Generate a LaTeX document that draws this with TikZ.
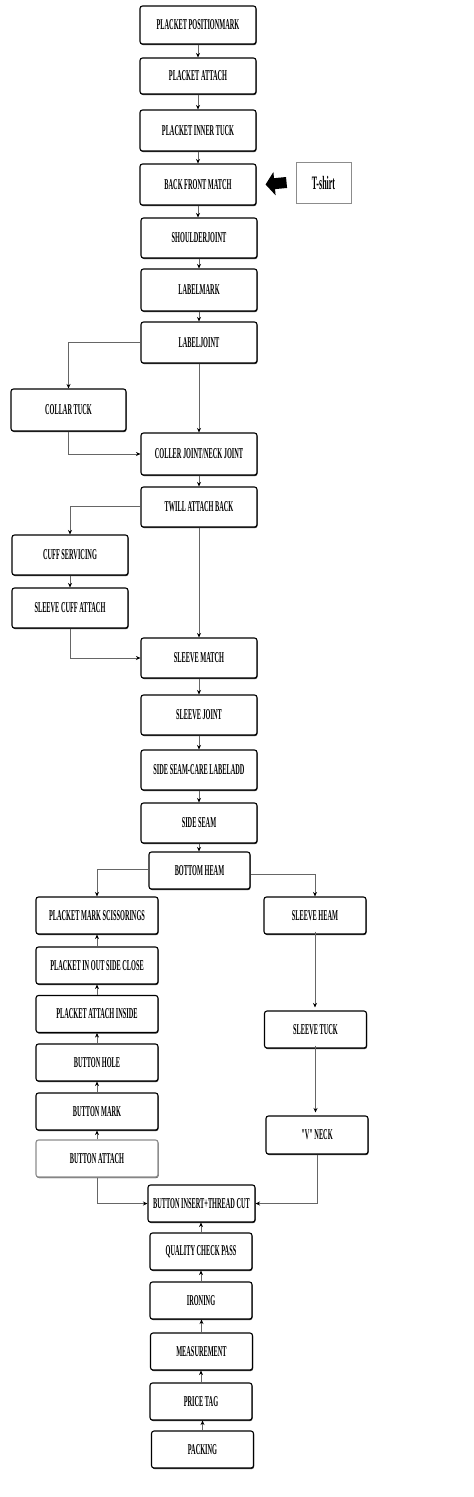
\documentclass[tikz,border=0pt]{standalone}
\usepackage{fontspec}
\newfontfamily\lblfont[FakeStretch=0.42]{Liberation Serif}
\usetikzlibrary{arrows.meta,shadows,calc}
\begin{document}
\begin{tikzpicture}[x=1pt,y=-1pt,
  stepbox/.style={draw=black, rounded corners=2.5pt, line width=1.1pt, minimum width=116pt, minimum height=40pt, inner sep=0pt, align=center, fill=white, font=\lblfont\bfseries\fontsize{15}{15}\selectfont, drop shadow={shadow xshift=0.6pt, shadow yshift=-1.1pt, fill=black, opacity=0.8}},
  small/.style={minimum width=102pt, minimum height=37pt},
  leftcol/.style={minimum width=122pt, minimum height=37pt},
  conn/.style={draw=black!60, line width=0.7pt, -{Stealth[length=4.5pt,width=4pt,black]}},
  srcbox/.style={draw=black!45, line width=0.9pt, minimum width=55pt, minimum height=41pt, inner sep=0pt, fill=white, font=\lblfont\bfseries\fontsize{19}{19}\selectfont},
]
\useasboundingbox (0,0) rectangle (474,1497);
% main column
\node[stepbox, minimum height=38pt] (ppm) at (198,25) {PLACKET POSITIONMARK};
\node[stepbox, minimum height=36pt] (pa) at (198,76) {PLACKET ATTACH};
\node[stepbox, minimum height=41pt] (pit) at (198,130.5) {PLACKET INNER TUCK};
\node[stepbox, minimum height=41pt] (bfm) at (198,184.5) {BACK FRONT MATCH};
\node[stepbox] (sj) at (199,238) {SHOULDERJOINT};
\node[stepbox, minimum height=42pt] (lm) at (199,290) {LABELMARK};
\node[stepbox, minimum height=41pt] (lj) at (199,342.5) {LABELJOINT};
\node[stepbox, minimum width=115pt, minimum height=42pt] (ct) at (68.5,410) {COLLAR TUCK};
\node[stepbox, minimum height=42pt] (cj) at (199,454) {COLLER JOINT/NECK JOINT};
\node[stepbox] (tab) at (199,507) {TWILL ATTACH BACK};
\node[stepbox] (cs) at (70,555) {CUFF SERVICING};
\node[stepbox] (sca) at (70,608) {SLEEVE CUFF ATTACH};
\node[stepbox] (sm) at (199,658) {SLEEVE MATCH};
\node[stepbox] (sjt) at (199,715) {SLEEVE JOINT};
\node[stepbox] (ssc) at (199,770) {SIDE SEAM-CARE LABELADD};
\node[stepbox] (ss) at (199,823) {SIDE SEAM};
\node[stepbox, small, minimum width=101pt] (bh) at (199.5,870.5) {BOTTOM HEAM};
% left column
\node[stepbox, leftcol] (pms) at (97,915.5) {PLACKET MARK SCISSORINGS};
\node[stepbox, leftcol] (pio) at (97,965.5) {PLACKET IN OUT SIDE CLOSE};
\node[stepbox, leftcol] (pai) at (97,1014) {PLACKET ATTACH INSIDE};
\node[stepbox, leftcol] (bho) at (97,1062.5) {BUTTON HOLE};
\node[stepbox, leftcol] (bmk) at (97,1111.5) {BUTTON MARK};
\node[stepbox, leftcol, draw=black!45, drop shadow={shadow xshift=0.6pt, shadow yshift=-1pt, fill=black!40}] (bat) at (97,1158.5) {BUTTON ATTACH};
% right column
\node[stepbox, small] (sh) at (315,915.5) {SLEEVE HEAM};
\node[stepbox, small] (stk) at (315.5,1029.5) {SLEEVE TUCK};
\node[stepbox, small, minimum height=38pt] (vn) at (317,1135) {"V" NECK};
% bottom column
\node[stepbox, small, minimum width=107pt] (bit) at (201.5,1203.5) {BUTTON INSERT+THREAD CUT};
\node[stepbox, small] (qcp) at (201,1251.5) {QUALITY CHECK PASS};
\node[stepbox, small] (irn) at (201,1300.5) {IRONING};
\node[stepbox, small] (mea) at (201.5,1351.5) {MEASUREMENT};
\node[stepbox, small] (pt) at (201,1401.5) {PRICE TAG};
\node[stepbox, small] (pk) at (202.5,1449.5) {PACKING};
% source
\node[srcbox] (ts) at (323.5,182.5) {T-shirt};
\draw[line width=11pt, -{Triangle[length=9pt,width=23pt]}] ($(ts.west)+(-9,0)$) -- ($(bfm.east)+(9,0)$);
% connectors main
\draw[conn] (ppm) -- (pa);
\draw[conn] (pa) -- (pit);
\draw[conn] (pit) -- (bfm);
\draw[conn] (bfm.south) -- (bfm.south |- sj.north);
\draw[conn] (sj) -- (lm);
\draw[conn] (lm) -- (lj);
\draw[conn] (lj.west) -| (ct.north);
\draw[conn] (lj) -- (cj);
\draw[conn] (ct.south) |- (cj.west);
\draw[conn] (cj) -- (tab);
\draw[conn] ([yshift=1pt]tab.west) -| (cs.north);
\draw[conn] (cs) -- (sca);
\draw[conn] (sca.south) |- (sm.west);
\draw[conn] (tab) -- (sm);
\draw[conn] (sm) -- (sjt);
\draw[conn] (sjt) -- (ssc);
\draw[conn] (ssc) -- (ss);
\draw[conn] (ss.south) -- (ss.south |- bh.north);
% branches
\coordinate (bhl) at ($(bh.west)+(0,-1)$);
\coordinate (bhr) at ($(bh.east)+(0,4)$);
\draw[conn] (bhl) -| (pms.north);
\draw[conn] (bhr) -| (sh.north);
\draw[conn] (pio.north) -- (pms.south);
\draw[conn] (pai.north) -- (pio.south);
\draw[conn] (bho.north) -- (pai.south);
\draw[conn] (bmk.north) -- (bho.south);
\draw[conn] (bat.north) -- (bmk.south);
\draw[conn] ([yshift=3pt]sh.south) -- ([yshift=3pt]sh.south |- stk.north);
\draw[conn] ([yshift=3pt]stk.south) -- ([yshift=3pt]stk.south |- vn.north);
\draw[conn] (bat.south) |- (bit.west);
\draw[conn] (vn.south) |- (bit.east);
\draw[conn] (qcp.north) -- (qcp.north |- bit.south);
\draw[conn] (irn.north) -- (irn.north |- qcp.south);
\draw[conn] (mea.north) -- (mea.north |- irn.south);
\draw[conn] (pt.north) -- (pt.north |- mea.south);
\draw[conn] (pk.north) -- (pk.north |- pt.south);
\end{tikzpicture}
\end{document}
